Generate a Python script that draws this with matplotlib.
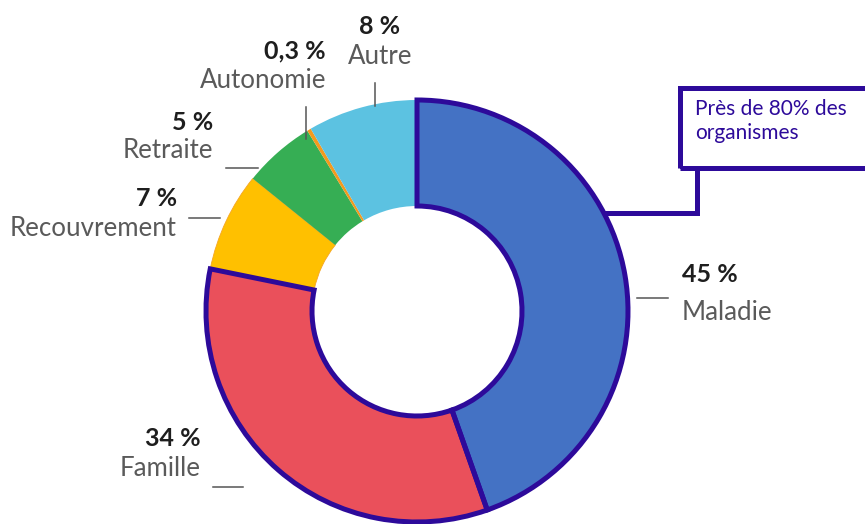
import matplotlib.pyplot as plt
from matplotlib.patches import Wedge, Rectangle

plt.rcParams['font.family'] = ['Lato', 'DejaVu Sans']

# data, clockwise from 12 o'clock
categories = ['Maladie', 'Famille', 'Recouvrement', 'Retraite', 'Autonomie', 'Autre']
# slice sizes as drawn in the picture (labels are rounded)
shares = [44.6, 33.6, 7.6, 5.5, 0.3, 8.4]
share_labels = ['45 %', '34 %', '7 %', '5 %', '0,3 %', '8 %']
colors = ['#4472C4', '#EA505B', '#FFC000', '#36AE54', '#F39A1E', '#5CC2E1']
highlight = ['Maladie', 'Famille']
note = 'Près de 80% des\norganismes'

PURPLE = '#2D0A9A'
W, H = 865, 524


def py(y):
    # pixel row (top origin) -> data y
    return H - y


fig = plt.figure(figsize=(W / 100, H / 100), dpi=100)
ax = fig.add_axes([0, 0, 1, 1])
ax.set_xlim(0, W)
ax.set_ylim(0, H)
ax.set_aspect('equal')
ax.axis('off')

cx, cy, r_out, ring = 417, py(311), 211, 106

wedges, _ = ax.pie(shares, colors=colors, startangle=90, counterclock=False,
                   radius=r_out, center=(cx, cy),
                   wedgeprops=dict(width=ring, linewidth=0))
ax.set_xlim(0, W)
ax.set_ylim(0, H)

# purple outline on the highlighted slices
for w, cat in zip(wedges, categories):
    if cat in highlight:
        ow = Wedge(w.center, w.r, w.theta1, w.theta2, width=w.width,
                   fill=False, edgecolor=PURPLE, linewidth=3.6, zorder=5)
        ax.add_patch(ow)
    if cat == 'Recouvrement':
        w.set_edgecolor('#F5A623')
        w.set_linewidth(0.6)

# labels: (x, y_pct, y_name, ha)
label_pos = {
    'Maladie': (682, 275, 313, 'left'),
    'Famille': (201, 439, 468, 'right'),
    'Recouvrement': (177, 199, 228, 'right'),
    'Retraite': (213, 122, 150, 'right'),
    'Autonomie': (326, 51, 80, 'right'),
    'Autre': (380, 26, 56, 'center'),
}
for cat, pct in zip(categories, share_labels):
    x, yp, yn, ha = label_pos[cat]
    ax.text(x, py(yp), pct, ha=ha, va='center', fontsize=18,
            fontweight='bold', color='#1E1E1E')
    ax.text(x, py(yn), cat, ha=ha, va='center', fontsize=18.6, color='#5A5A5A')

# leader lines
leaders = [
    ((637, 668), (298, 298)),
    ((213, 243), (487, 487)),
    ((189, 220), (218, 218)),
    ((226, 258), (168, 168)),
    ((306, 306), (107, 139)),
    ((375, 375), (83, 106)),
]
for xs, ys in leaders:
    ax.plot(xs, [py(v) for v in ys], color='#555555', lw=1.1)

# callout box (runs off the right edge)
ax.add_patch(Rectangle((680, py(168)), 240, 80, fill=False,
                       edgecolor=PURPLE, linewidth=3.6, zorder=6,
                       clip_on=True))
ax.plot([697, 697, 606], [py(168), py(213), py(213)], color=PURPLE,
        lw=3.6, solid_joinstyle='miter', zorder=6)
ax.text(695, py(121), note, ha='left', va='center', fontsize=15,
        color=PURPLE, linespacing=1.2)

fig.savefig('out.png', dpi=100)
